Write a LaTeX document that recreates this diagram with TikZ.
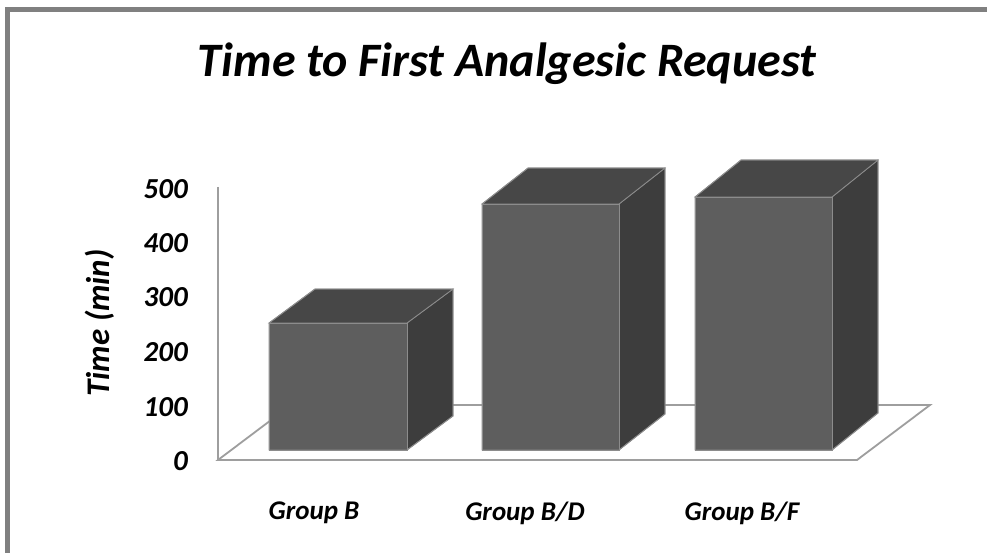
\documentclass[tikz,border=0pt]{standalone}
\usepackage{fontspec}
\setmainfont{Carlito}
\begin{document}
\begin{tikzpicture}[x=1pt,y=-1pt,
  framebar/.style={draw=black!50,line width=4.5pt},
  axisline/.style={draw=black!38,line width=1.8pt},
  frontface/.style={fill=black!63,draw=black!45,line width=0.8pt},
  topface/.style={fill=black!72,draw=black!45,line width=0.8pt},
  sideface/.style={fill=black!76,draw=black!45,line width=0.8pt},
  ticklbl/.style={anchor=east,font=\fontsize{29}{30}\selectfont\bfseries\itshape,inner sep=0pt},
  catlbl/.style={font=\fontsize{27}{28}\selectfont\bfseries\itshape,inner sep=0pt},
]
\useasboundingbox (0,0) rectangle (987,553);
\fill[white] (0,0) rectangle (987,553);
% frame
\draw[framebar] (7.5,553) -- (7.5,9.5) -- (987,9.5);
% title
\node[font=\fontsize{48}{50}\selectfont\bfseries\itshape,inner sep=0pt] (title) at (507,64) {Time to First Analgesic Request};
% floor and wall line
\draw[axisline] (218,460) -- (857,460) -- (930,405) -- (291,405) -- cycle;
\draw[axisline] (218,187) -- (218,460);
% ticks
\node[ticklbl] (t500) at (188,189) {500};
\node[ticklbl] (t400) at (188,243) {400};
\node[ticklbl] (t300) at (188,297) {300};
\node[ticklbl] (t200) at (188,352) {200};
\node[ticklbl] (t100) at (188,407) {100};
\node[ticklbl] (t0) at (188,461) {0};
\node[rotate=90,font=\fontsize{33}{34}\selectfont\bfseries\itshape,inner sep=0pt] (ylab) at (100,323) {Time (min)};
% bars
\newcommand{\mybar}[4]{% left, right, top, depthy
  \fill[sideface] (#2,450) -- (#2,#3) -- (#2+46,#3-#4) -- (#2+46,450-#4) -- cycle;
  \fill[topface] (#1,#3) -- (#1+46,#3-#4) -- (#2+46,#3-#4) -- (#2,#3) -- cycle;
  \fill[frontface] (#1,450) rectangle (#2,#3);
  \draw[draw=black!45,line width=0.8pt] (#2,450) -- (#2+46,450-#4) -- (#2+46,#3-#4) -- (#1+46,#3-#4) -- (#1,#3) -- (#1,450) -- cycle;
}
\mybar{269}{407}{323}{34}
\mybar{482}{619}{204}{36}
\mybar{695}{832}{197}{37}
% categories
\node[catlbl] (gb) at (314,513) {Group B};
\node[catlbl] (gbd) at (525,513) {Group B/D};
\node[catlbl] (gbf) at (742,513) {Group B/F};
\end{tikzpicture}
\end{document}
